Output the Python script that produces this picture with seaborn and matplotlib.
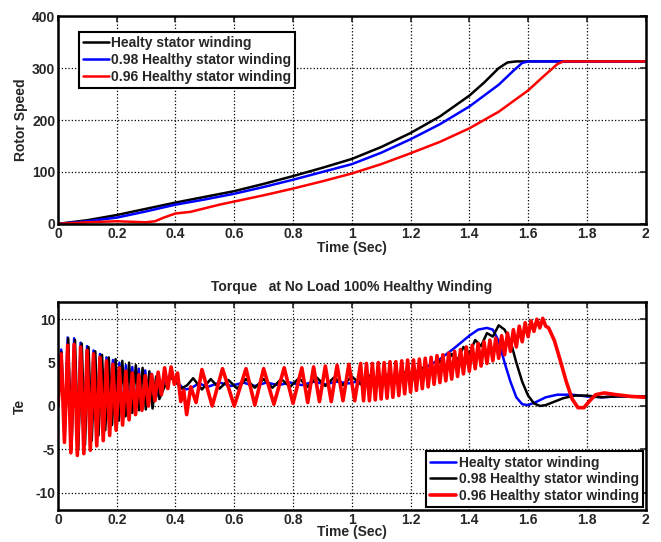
import numpy as np
import pandas as pd
import matplotlib
matplotlib.use("Agg")
import matplotlib.pyplot as plt
import seaborn as sns

# ---- rotor speed data ----
spd_black_t = [0, 0.1, 0.2, 0.3, 0.4, 0.5, 0.6, 0.7, 0.8, 0.9, 1.0, 1.1, 1.2, 1.3, 1.4, 1.45, 1.5, 1.53, 1.56, 1.6, 2.0]
spd_black = [0, 7, 17, 29, 41, 52, 63, 77, 92, 108, 125, 148, 175, 207, 247, 272, 300, 311, 313, 313, 313]

spd_blue_t = [0, 0.1, 0.2, 0.3, 0.4, 0.5, 0.6, 0.7, 0.8, 0.9, 1.0, 1.1, 1.2, 1.3, 1.4, 1.5, 1.55, 1.58, 1.6, 2.0]
spd_blue = [0, 5, 12, 24, 37, 47, 58, 71, 85, 100, 115, 137, 163, 192, 226, 268, 295, 310, 313, 313]

spd_red_t = [0, 0.1, 0.2, 0.25, 0.3, 0.33, 0.36, 0.4, 0.45, 0.5, 0.55, 0.6, 0.7, 0.8, 0.9, 1.0,
             1.1, 1.2, 1.3, 1.4, 1.5, 1.6, 1.65, 1.7, 1.72, 2.0]
spd_red = [0, 3, 5, 4, 3, 5, 12, 20, 23, 30, 37, 43, 55, 68, 82, 97,
           115, 136, 158, 184, 216, 257, 283, 308, 313, 313]

# ---- electromagnetic torque data ----
te_blue_t = [0.000, 0.011, 0.022, 0.033, 0.044, 0.055, 0.066, 0.077, 0.088, 0.099, 0.110, 0.121,
             0.132, 0.143, 0.154, 0.165, 0.176, 0.187, 0.198, 0.209, 0.220, 0.231, 0.242, 0.253,
             0.264, 0.275, 0.286, 0.297, 0.308, 0.319, 0.330,
             0.35, 0.37, 0.39, 0.41, 0.43, 0.45, 0.48, 0.51, 0.55, 0.59, 0.63, 0.67, 0.71, 0.75,
             0.79, 0.83, 0.87, 0.91, 0.95, 0.99, 1.03, 1.07, 1.10, 1.15, 1.20, 1.25, 1.30, 1.35,
             1.40, 1.43, 1.46, 1.48, 1.50, 1.52, 1.54, 1.56, 1.58, 1.60, 1.63, 1.66, 1.70, 1.75,
             1.80, 1.85, 1.90, 2.00]
te_blue = [0.0, 6.5, -3.5, 7.9, -4.8, 7.8, -4.8, 7.3, -4.4, 6.9, -3.9, 6.4,
           -3.3, 6.0, -2.7, 5.6, -2.1, 5.3, -1.6, 5.0, -1.1, 4.7, -0.7, 4.5,
           -0.3, 4.3, 0.0, 4.1, 0.3, 3.7, 0.8,
           2.2, 3.0, 3.3, 2.6, 1.9, 2.0, 2.6, 2.2, 2.7, 2.3, 2.7, 2.3, 2.7, 2.4,
           2.7, 2.4, 2.8, 2.5, 2.8, 2.6, 2.9, 2.8, 3.0, 3.3, 3.7, 4.4, 5.4, 6.7,
           8.1, 8.8, 9.0, 8.8, 7.5, 5.0, 2.8, 1.0, 0.2, 0.1, 0.5, 1.0, 1.3, 1.3,
           1.1, 1.0, 1.1, 1.1]

te_black_t = [0.000, 0.012, 0.023, 0.035, 0.046, 0.058, 0.069, 0.081, 0.092, 0.104, 0.115, 0.127,
              0.138, 0.150, 0.161, 0.173, 0.184, 0.196, 0.207, 0.219, 0.230, 0.242, 0.253, 0.265,
              0.276, 0.288, 0.299, 0.311, 0.322, 0.334, 0.345,
              0.36, 0.38, 0.40, 0.42, 0.44, 0.46, 0.49, 0.52, 0.55, 0.58, 0.61, 0.64, 0.67, 0.70,
              0.73, 0.76, 0.79, 0.82, 0.85, 0.88, 0.91, 0.94, 0.97, 1.00, 1.03, 1.06, 1.09, 1.12,
              1.15, 1.18, 1.21, 1.24, 1.27, 1.30, 1.32, 1.34, 1.36, 1.38, 1.40, 1.42, 1.44, 1.46,
              1.48, 1.50, 1.52, 1.54, 1.56, 1.58, 1.60, 1.62, 1.64, 1.66, 1.69, 1.72, 1.76, 1.80,
              1.85, 1.90, 2.00]
te_black = [0.0, 6.2, -3.6, 7.8, -5.0, 7.6, -5.0, 7.2, -4.5, 6.8, -4.0, 6.3,
            -3.4, 5.9, -2.8, 5.6, -2.2, 5.4, -1.7, 5.2, -1.2, 5.0, -0.8, 4.7,
            -0.5, 4.4, -0.4, 4.0, -0.3, 3.4, 0.8,
            2.0, 3.4, 2.8, 2.0, 2.4, 3.2, 1.9, 3.1, 2.0, 3.0, 2.0, 3.1, 2.1, 3.1,
            2.1, 3.1, 2.2, 3.2, 2.2, 3.3, 2.3, 3.3, 2.4, 3.4, 2.5, 3.5, 2.7, 3.6,
            2.9, 3.9, 3.2, 4.4, 3.8, 5.2, 4.6, 6.0, 5.3, 6.8, 6.0, 7.6, 6.9, 8.4,
            8.0, 9.3, 8.8, 7.5, 5.0, 2.8, 1.2, 0.3, 0.0, 0.1, 0.5, 0.9, 1.2, 1.2,
            1.0, 1.1, 1.1]

te_red_t = [0.000, 0.011, 0.022, 0.033, 0.044, 0.055, 0.066, 0.077, 0.088, 0.099, 0.110, 0.121,
            0.132, 0.143, 0.154, 0.165, 0.176, 0.187, 0.198, 0.209, 0.220, 0.231, 0.242, 0.253,
            0.264, 0.275, 0.286, 0.297, 0.308, 0.319, 0.330, 0.341, 0.352, 0.363, 0.374, 0.385,
            0.396, 0.407, 0.418, 0.428, 0.438, 0.452, 0.470, 0.490, 0.525, 0.560, 0.600, 0.640,
            0.670, 0.700, 0.735, 0.770, 0.800, 0.830, 0.850, 0.870, 0.890, 0.910, 0.930, 0.950,
            0.970, 0.990, 1.010, 1.030, 1.040,
            1.05, 1.06, 1.07, 1.08, 1.09, 1.10, 1.11, 1.12, 1.13, 1.14, 1.15, 1.16, 1.17, 1.18,
            1.19, 1.20, 1.21, 1.22, 1.23, 1.24, 1.25, 1.26, 1.27, 1.28, 1.29, 1.30, 1.31, 1.32,
            1.33, 1.34, 1.35, 1.36, 1.37, 1.38, 1.39, 1.40, 1.41, 1.42, 1.43, 1.44, 1.45, 1.46,
            1.47, 1.48, 1.49, 1.50, 1.51, 1.52, 1.53, 1.54, 1.55, 1.56, 1.57, 1.58, 1.59, 1.60,
            1.61, 1.62, 1.63, 1.64, 1.65, 1.66, 1.67, 1.69, 1.71, 1.73, 1.75, 1.77, 1.79, 1.81,
            1.83, 1.86, 1.90, 1.95, 2.00]
te_red = [0.0, 6.0, -4.2, 7.0, -5.4, 7.1, -5.7, 6.8, -5.5, 6.4, -5.1, 6.0,
          -4.6, 5.6, -4.0, 5.2, -3.4, 4.8, -2.8, 4.4, -2.2, 4.0, -1.6, 3.8,
          -1.0, 3.6, -0.5, 3.5, 0.0, 3.6, 0.6, 3.9, 1.3, 4.4, 2.0, 4.5,
          2.5, 3.8, 0.5, 1.8, -1.0, 2.2, 0.4, 4.2, 0.0, 4.3, 0.0, 4.3,
          0.1, 4.3, 0.2, 4.4, 0.3, 4.4, 0.4, 4.5, 0.5, 4.6, 0.5, 4.7,
          0.6, 4.8, 0.6, 4.9, 0.6,
          4.9, 0.6, 4.9, 0.7, 5.0, 0.8, 5.0, 0.9, 5.1, 1.0, 5.1, 1.2, 5.2, 1.4,
          5.3, 1.6, 5.3, 1.8, 5.4, 2.0, 5.5, 2.2, 5.6, 2.5, 5.8, 2.7, 5.9, 2.9,
          6.1, 3.1, 6.3, 3.4, 6.5, 3.7, 6.8, 4.0, 7.0, 4.3, 7.2, 4.6, 7.4, 4.9,
          7.6, 5.2, 7.8, 5.5, 8.1, 5.9, 8.4, 6.3, 8.8, 6.8, 9.2, 7.4, 9.6, 8.0,
          9.8, 8.6, 10.0, 9.0, 10.1, 9.2, 9.0, 7.5, 5.2, 2.8, 0.8, -0.2, -0.2, 0.6,
          1.3, 1.5, 1.3, 1.1, 1.0]

lbl_a = "Healty stator winding"
lbl_b = "0.98 Healthy stator winding"
lbl_c = "0.96 Healthy stator winding"

sns.set_style("white")
plt.rcParams['font.family'] = ['Liberation Sans', 'DejaVu Sans']
plt.rcParams['font.weight'] = 'bold'
plt.rcParams['axes.labelweight'] = 'bold'
plt.rcParams['axes.titleweight'] = 'bold'
plt.rcParams['axes.unicode_minus'] = False

fs = 10

fig = plt.figure(figsize=(6.61, 5.42), dpi=100)
ax1 = fig.add_axes([0.0877, 0.587, 0.889, 0.383])
ax2 = fig.add_axes([0.0877, 0.059, 0.889, 0.384])

# upper plot : rotor speed
sns.lineplot(x=spd_black_t, y=spd_black, ax=ax1, color="black", lw=1.8, label=lbl_a,
             sort=False, estimator=None)
sns.lineplot(x=spd_blue_t, y=spd_blue, ax=ax1, color="blue", lw=1.8, label=lbl_b,
             sort=False, estimator=None)
sns.lineplot(x=spd_red_t, y=spd_red, ax=ax1, color="red", lw=1.8, label=lbl_c,
             sort=False, estimator=None)
ax1.set_xlim(0, 2)
ax1.set_ylim(0, 400)
ax1.set_yticks([0, 100, 200, 300, 400])
ax1.set_xlabel("Time (Sec)", fontsize=fs, labelpad=0)
ax1.set_ylabel("Rotor Speed", fontsize=fs, labelpad=3)

# lower plot : torque
sns.lineplot(x=te_blue_t, y=te_blue, ax=ax2, color="blue", lw=1.8, label=lbl_a,
             sort=False, estimator=None)
sns.lineplot(x=te_black_t, y=te_black, ax=ax2, color="black", lw=1.8, label=lbl_b,
             sort=False, estimator=None)
sns.lineplot(x=te_red_t, y=te_red, ax=ax2, color="red", lw=2.6, label=lbl_c,
             sort=False, estimator=None)
ax2.set_xlim(0, 2)
ax2.set_ylim(-12, 12)
ax2.set_yticks([-10, -5, 0, 5, 10])
ax2.set_xlabel("Time (Sec)", fontsize=fs, labelpad=-1)
ax2.set_ylabel("Te", fontsize=fs, labelpad=6)
ax2.set_title("Torque   at No Load 100% Healthy Winding", fontsize=fs, pad=8)

for ax in (ax1, ax2):
    ax.set_xticks([0, 0.2, 0.4, 0.6, 0.8, 1, 1.2, 1.4, 1.6, 1.8, 2])
    ax.set_xticklabels(["0", "0.2", "0.4", "0.6", "0.8", "1", "1.2", "1.4", "1.6", "1.8", "2"])
    ax.grid(True, linestyle=":", color="black", linewidth=0.9)
    ax.tick_params(direction="in", top=True, right=True, length=4, width=1.2,
                   labelsize=fs, pad=2)
    for sp in ax.spines.values():
        sp.set_linewidth(1.8)
        sp.set_color("black")

leg1 = ax1.legend(loc="upper left", bbox_to_anchor=(0.035, 0.925), fontsize=fs,
                  fancybox=False, edgecolor="black", framealpha=1, borderpad=0.3,
                  labelspacing=0.2, handlelength=1.9, handletextpad=0.15, borderaxespad=0)
leg1.get_frame().set_linewidth(1.5)
leg2 = ax2.legend(loc="lower right", fontsize=fs, fancybox=False, edgecolor="black",
                  framealpha=1, borderpad=0.3, labelspacing=0.2, handlelength=1.9,
                  handletextpad=0.15, borderaxespad=0.2)
leg2.get_frame().set_linewidth(1.5)

fig.savefig("out.png", dpi=100)
